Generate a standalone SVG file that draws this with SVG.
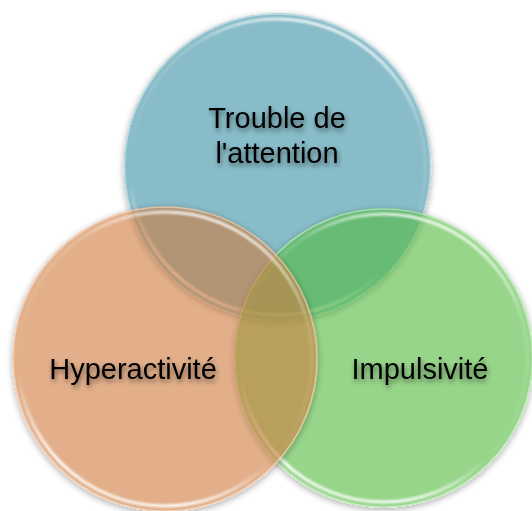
<svg xmlns="http://www.w3.org/2000/svg" width="532" height="511" viewBox="0 0 532 511">
  <defs>
    <!-- soft shadow that only falls outside each disc -->
    <filter id="discShadow" x="-20%" y="-20%" width="140%" height="140%">
      <feComponentTransfer in="SourceAlpha" result="solid"><feFuncA type="linear" slope="6"/></feComponentTransfer>
      <feGaussianBlur in="solid" stdDeviation="3"/>
      <feOffset dx="0" dy="2"/>
      <feComposite in2="solid" operator="out"/>
      <feComponentTransfer result="shade"><feFuncA type="linear" slope="0.3"/></feComponentTransfer>
      <feMerge><feMergeNode in="shade"/><feMergeNode in="SourceGraphic"/></feMerge>
    </filter>
    <!-- shadow behind the labels -->
    <filter id="textShadow" x="-20%" y="-40%" width="140%" height="180%">
      <feGaussianBlur in="SourceAlpha" stdDeviation="2.8"/>
      <feOffset dx="1" dy="2.5"/>
      <feComponentTransfer><feFuncA type="linear" slope="0.5"/></feComponentTransfer>
      <feMerge><feMergeNode/><feMergeNode in="SourceGraphic"/></feMerge>
    </filter>
    <filter id="soft" x="-10%" y="-10%" width="120%" height="120%">
      <feGaussianBlur stdDeviation="0.8"/>
    </filter>
    <!-- glossy rim: bright at the top and lower-left -->
    <linearGradient id="rim" x1="0.65" y1="0" x2="0.3" y2="1">
      <stop offset="0" stop-color="#fff" stop-opacity="0.9"/>
      <stop offset="0.22" stop-color="#fff" stop-opacity="0.15"/>
      <stop offset="0.7" stop-color="#fff" stop-opacity="0"/>
      <stop offset="0.92" stop-color="#fff" stop-opacity="1"/>
      <stop offset="1" stop-color="#fff" stop-opacity="0.7"/>
    </linearGradient>
  </defs>
  <style>
    .disc { fill-opacity: 0.6; }
    .edge { fill: none; stroke: #fff; stroke-opacity: 0.45; stroke-width: 1.5; }
    .gloss { fill: none; stroke: url(#rim); stroke-width: 3; }
    .label { font-family: "Liberation Sans", Arial, sans-serif; font-size: 29px; fill: #000; text-anchor: middle; }
  </style>

  <rect width="532" height="511" fill="#fff"/>

  <g id="attention" filter="url(#discShadow)">
    <circle class="disc" cx="277.5" cy="167" r="154" fill="#398FA3"/>
    <circle class="edge" cx="277.5" cy="167" r="153"/>
    <circle class="gloss" cx="277.5" cy="167" r="148" filter="url(#soft)"/>
  </g>

  <g id="impulsivite" filter="url(#discShadow)">
    <circle class="disc" cx="383.5" cy="358" r="150" fill="#52BB3E"/>
    <circle class="edge" cx="383.5" cy="358" r="149"/>
    <circle class="gloss" cx="383.5" cy="358" r="144" filter="url(#soft)"/>
  </g>

  <g id="hyperactivite" filter="url(#discShadow)">
    <circle class="disc" cx="165" cy="359" r="153" fill="#CF7B3C"/>
    <circle class="edge" cx="165" cy="359" r="152"/>
    <circle class="gloss" cx="165" cy="359" r="147" filter="url(#soft)"/>
  </g>

  <g id="labels" filter="url(#textShadow)">
    <text class="label" x="277" y="128">Trouble de</text>
    <text class="label" x="277" y="163">l'attention</text>
    <text class="label" x="133" y="379">Hyperactivité</text>
    <text class="label" x="420" y="379">Impulsivité</text>
  </g>
</svg>
